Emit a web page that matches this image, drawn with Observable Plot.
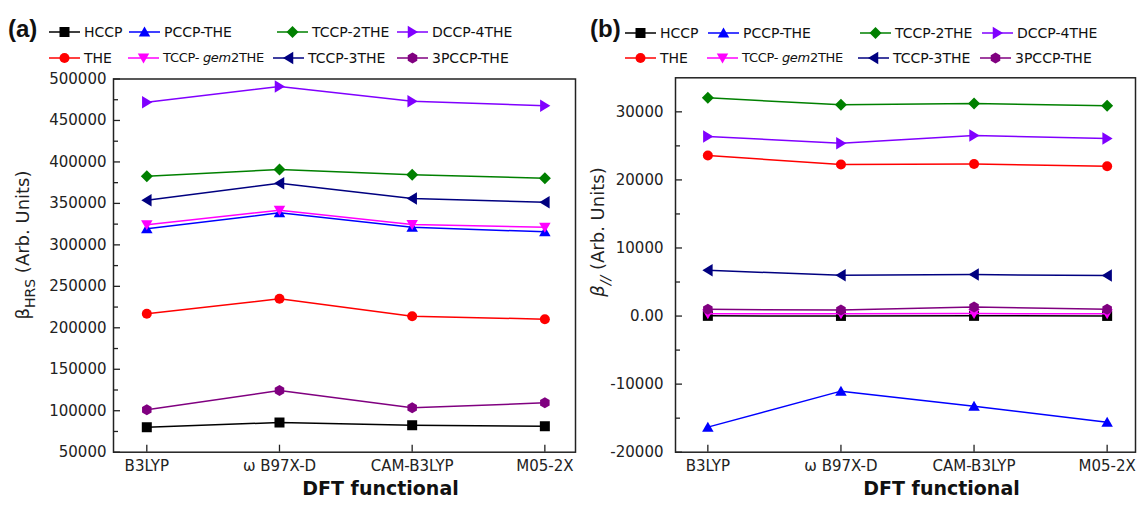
<!DOCTYPE html>
<html><head><meta charset="utf-8">
<script src="https://cdn.jsdelivr.net/npm/d3@7"></script>
<script src="https://cdn.jsdelivr.net/npm/@observablehq/plot@0.6"></script>
<style>
body{margin:0;background:#fff;}
#wrap{position:relative;width:1143px;height:505px;overflow:hidden;font-family:"DejaVu Sans",sans-serif;background:#fff;}
.panel{position:absolute;top:0;}
.leg{position:absolute;display:flex;align-items:center;font-size:14px;color:#111;white-space:nowrap;height:16px;line-height:16px;}
.leg svg{display:block;margin-right:4px;overflow:visible;}
.tag{position:absolute;font-family:"Liberation Sans",Arial,sans-serif;font-weight:bold;font-size:24px;line-height:24px;color:#111;}
</style></head><body><div id="wrap"></div>
<script>
// ---------- data ----------
const functionals = ["B3LYP", "ω B97X-D", "CAM-B3LYP", "M05-2X"];
const seriesNames = ["HCCP", "THE", "PCCP-THE", "TCCP-gem2THE", "TCCP-2THE", "TCCP-3THE", "DCCP-4THE", "3PCCP-THE"];
const seriesColors = ["#000000", "#ff0000", "#0000ff", "#ff00ff", "#008000", "#000080", "#8000ff", "#800080"];

// panel (a): beta_HRS
const hrsHCCP  = [80100, 85800, 82500, 81300];
const hrsTHE   = [216900, 235000, 214000, 210400];
const hrsPCCP  = [319400, 338600, 321300, 315700];
const hrsGem2  = [324200, 341800, 324500, 321300];
const hrs2THE  = [382800, 390900, 384500, 380400];
const hrs3THE  = [353900, 374400, 355900, 351400];
const hrs4THE  = [472000, 491000, 473200, 467700];
const hrs3PCCP = [101100, 124400, 103500, 109500];

// panel (b): beta_//
const parHCCP  = [30, 20, 30, 20];
const parTHE   = [23590, 22260, 22350, 22010];
const parPCCP  = [-16320, -11030, -13240, -15590];
const parGem2  = [350, 330, 360, 340];
const par2THE  = [32060, 31030, 31240, 30880];
const par3THE  = [6720, 5990, 6090, 5940];
const par4THE  = [26380, 25400, 26530, 26090];
const par3PCCP = [985, 880, 1320, 985];

// ticks
const xTickIdx = [0, 1, 2, 3];
const hrsTicks = [50000, 100000, 150000, 200000, 250000, 300000, 350000, 400000, 450000, 500000];
const hrsMinor = [75000, 125000, 175000, 225000, 275000, 325000, 375000, 425000, 475000];
const parTicks = [-20000, -10000, 0, 10000, 20000, 30000];
const parMinor = [-15000, -5000, 5000, 15000, 25000];

const hrsSeries = [hrsHCCP, hrsTHE, hrsPCCP, hrsGem2, hrs2THE, hrs3THE, hrs4THE, hrs3PCCP];
const parSeries = [parHCCP, parTHE, parPCCP, parGem2, par2THE, par3THE, par4THE, par3PCCP];

// ---------- symbols ----------
function poly(pts) {
  return {draw(ctx, size) {
    const r = Math.sqrt(size / Math.PI);
    ctx.moveTo(pts[0][0] * r, pts[0][1] * r);
    for (let i = 1; i < pts.length; i++) ctx.lineTo(pts[i][0] * r, pts[i][1] * r);
    ctx.closePath();
  }};
}
const symCircle = {draw(ctx, size) { const r = Math.sqrt(size / Math.PI); ctx.moveTo(r, 0); ctx.arc(0, 0, r, 0, 2 * Math.PI); ctx.closePath(); }};
const symSquare = poly([[-1, -1], [1, -1], [1, 1], [-1, 1]]);
const symUp = poly([[0, -1.1], [1.15, 0.9], [-1.15, 0.9]]);
const symDown = poly([[0, 1.1], [1.15, -0.9], [-1.15, -0.9]]);
const symDiamond = poly([[0, -1.2], [1.2, 0], [0, 1.2], [-1.2, 0]]);
const symLeft = poly([[-1.1, 0], [0.95, 1.25], [0.95, -1.25]]);
const symRight = poly([[1.1, 0], [-0.95, 1.25], [-0.95, -1.25]]);
const symHex = poly(d3.range(6).map(k => { const a = (-90 + 60 * k) * Math.PI / 180; return [1.1 * Math.cos(a), 1.1 * Math.sin(a)]; }));
const seriesSymbols = [symSquare, symCircle, symUp, symDown, symDiamond, symLeft, symRight, symHex];

function toRows(series) {
  const rows = [];
  seriesNames.forEach((name, si) => series[si].forEach((v, fi) => rows.push({series: name, fi, v})));
  return rows;
}

const wrap = document.getElementById("wrap");

function makePanel(opts) {
  const rows = toRows(opts.series);
  const frameW = opts.width - opts.ml - opts.mr;
  const frameH = 505 - opts.mt - opts.mb;
  const marks = [];
  seriesNames.forEach(name => {
    const sub = rows.filter(r => r.series === name);
    marks.push(Plot.line(sub, {x: "fi", y: "v", stroke: "series", strokeWidth: 1.5}));
    marks.push(Plot.dot(sub, {x: "fi", y: "v", fill: "series", symbol: "series", r: 5, stroke: "none"}));
  });
  const svg = Plot.plot({
    width: opts.width, height: 505,
    marginLeft: opts.ml, marginRight: opts.mr, marginTop: opts.mt, marginBottom: opts.mb,
    style: {fontFamily: "DejaVu Sans, sans-serif", fontSize: "15px", color: "#222", background: "transparent"},
    x: {type: "linear", domain: opts.xdom},
    y: {type: "linear", domain: opts.ydom},
    color: {domain: seriesNames, range: seriesColors},
    symbol: {domain: seriesNames, range: seriesSymbols},
    marks: [
      ...marks,
      Plot.ruleY(opts.minor, {y: d => d, insetRight: frameW - 5, stroke: "#222", strokeWidth: 1.3}),
      Plot.ruleY(opts.ticks, {y: d => d, insetRight: frameW - 7, stroke: "#222", strokeWidth: 1.3}),
      Plot.ruleX(xTickIdx, {x: d => d, insetTop: frameH - 7, stroke: "#222", strokeWidth: 1.3}),
      Plot.frame({stroke: "#222", strokeWidth: 1.5}),
      Plot.axisY({ticks: opts.ticks, tickSize: 0, tickPadding: opts.yPad, tickFormat: opts.yFmt, label: null, fill: "#222"}),
      Plot.axisX({ticks: xTickIdx, tickSize: 0, tickPadding: 8, tickFormat: i => functionals[i], label: null, fill: "#222"}),
      Plot.text(["DFT functional"], {frameAnchor: "bottom", dx: 36, dy: 37, text: d => d, fontWeight: "bold", fontSize: 19, fill: "#111", lineAnchor: "middle"})
    ]
  });
  // y-axis label with subscript
  const t = d3.select(svg).append("text")
    .attr("transform", `translate(${opts.labX},${opts.labY}) rotate(-90)`)
    .attr("text-anchor", "middle").attr("dominant-baseline", "central")
    .style("font-size", "18px").style("fill", "#222").style("font-family", "DejaVu Sans, sans-serif");
  opts.yLabel.forEach(p => {
    const s = t.append("tspan").text(p.text);
    if (p.sub) s.attr("baseline-shift", "sub").style("font-size", "14px");
    if (p.italic) s.style("font-style", "italic");
  });
  const div = document.createElement("div");
  div.className = "panel";
  div.style.left = opts.left + "px";
  div.appendChild(svg);
  // legend
  opts.legend.forEach(item => {
    const si = seriesNames.indexOf(item.name);
    const el = document.createElement("div");
    el.className = "leg";
    el.style.left = item.x + "px";
    el.style.top = (item.y - 8) + "px";
    const ls = d3.create("svg").attr("width", 31).attr("height", 16);
    ls.append("line").attr("x1", 0).attr("x2", 31).attr("y1", 8).attr("y2", 8).attr("stroke", seriesColors[si]).attr("stroke-width", 1.5);
    const p = d3.path();
    seriesSymbols[si].draw(p, 25 * Math.PI);
    ls.append("path").attr("d", p.toString()).attr("transform", "translate(15.5,8)").attr("fill", seriesColors[si]);
    el.appendChild(ls.node());
    const sp = document.createElement("span");
    if (item.name === "TCCP-gem2THE") {
      sp.innerHTML = "TCCP- <i>gem</i>2THE";
      sp.style.fontSize = "13px";
      sp.style.letterSpacing = "-0.3px";
    } else sp.textContent = item.name;
    el.appendChild(sp);
    div.appendChild(el);
  });
  const tag = document.createElement("div");
  tag.className = "tag";
  tag.style.left = opts.tagX + "px";
  tag.style.top = "17px";
  tag.textContent = opts.tag;
  div.appendChild(tag);
  wrap.appendChild(div);
}

makePanel({
  left: 0, width: 580, ml: 113, mr: 5, mt: 78.5, mb: 53.3,
  xdom: [-0.251, 3.231], ydom: [50000, 500000],
  series: hrsSeries, ticks: hrsTicks, minor: hrsMinor, yPad: 7, yFmt: d => String(d),
  labX: 22, labY: 245,
  yLabel: [{text: "β"}, {text: "HRS", sub: true}, {text: " (Arb. Units)"}],
  tag: "(a)", tagX: 8,
  legend: [
    {name: "HCCP", x: 49, y: 31.5}, {name: "PCCP-THE", x: 129, y: 31.5}, {name: "TCCP-2THE", x: 277, y: 31.5}, {name: "DCCP-4THE", x: 397, y: 31.5},
    {name: "THE", x: 49, y: 57.5}, {name: "TCCP-gem2THE", x: 128, y: 57.5}, {name: "TCCP-3THE", x: 273, y: 57.5}, {name: "3PCCP-THE", x: 397, y: 57.5}
  ]
});

makePanel({
  left: 580, width: 563, ml: 95, mr: 8, mt: 77.3, mb: 53.3,
  xdom: [-0.243, 3.213], ydom: [-20000, 35000],
  series: parSeries, ticks: parTicks, minor: parMinor, yPad: 12, yFmt: d => d === 0 ? "0.00" : String(d),
  labX: 17, labY: 232,
  yLabel: [{text: "β", italic: true}, {text: "//", sub: true, italic: true}, {text: " (Arb. Units)"}],
  tag: "(b)", tagX: 10,
  legend: [
    {name: "HCCP", x: 45, y: 33}, {name: "PCCP-THE", x: 128, y: 33}, {name: "TCCP-2THE", x: 280, y: 33}, {name: "DCCP-4THE", x: 402, y: 33},
    {name: "THE", x: 45, y: 58}, {name: "TCCP-gem2THE", x: 127, y: 58}, {name: "TCCP-3THE", x: 278, y: 58}, {name: "3PCCP-THE", x: 400, y: 58}
  ]
});
</script></body></html>
